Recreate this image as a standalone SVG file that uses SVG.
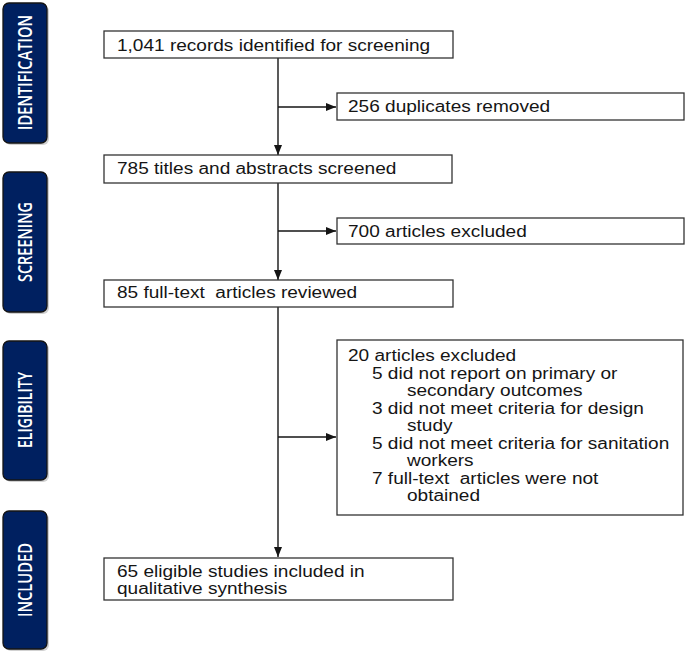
<svg xmlns="http://www.w3.org/2000/svg" width="688" height="652" viewBox="0 0 688 652">
<style>
.bg{fill:#ffffff}
.panel{fill:#002060;stroke:#141414;stroke-width:1.3}
.shadow{fill:#9a9a9a;opacity:0.45}
.plabel{font-family:"Open Sans","Liberation Sans",sans-serif;font-size:16px;font-weight:600;fill:#ffffff;text-anchor:middle}
.box{fill:#ffffff;stroke:#333333;stroke-width:1.3}
.t{font-family:"Liberation Sans",Arial,sans-serif;font-size:16px;fill:#151515}
.conn{fill:none;stroke:#151515;stroke-width:1.4}
</style>
<defs>
<marker id="ah" markerUnits="userSpaceOnUse" markerWidth="10" markerHeight="10" viewBox="0 0 10 10" refX="10" refY="5" orient="auto">
<path d="M0,1 L10,5 L0,9 Z" fill="#151515"/>
</marker>
</defs>
<rect class="bg" x="0" y="0" width="688" height="652"/>

<g id="phase-identification">
<rect class="shadow" x="5" y="5" width="44" height="140" rx="6"/>
<rect class="panel" x="3" y="3" width="44" height="140" rx="6"/>
<text class="plabel" textLength="115" lengthAdjust="spacingAndGlyphs" transform="translate(25,72.5) scale(1.19,1) rotate(-90)" dy="0.36em">IDENTIFICATION</text>
</g>
<g id="phase-screening">
<rect class="shadow" x="5" y="174" width="44" height="140" rx="6"/>
<rect class="panel" x="3" y="172" width="44" height="140" rx="6"/>
<text class="plabel" textLength="80" lengthAdjust="spacingAndGlyphs" transform="translate(25,242) scale(1.19,1) rotate(-90)" dy="0.36em">SCREENING</text>
</g>
<g id="phase-eligibility">
<rect class="shadow" x="5" y="343" width="44" height="139" rx="6"/>
<rect class="panel" x="3" y="341" width="44" height="139" rx="6"/>
<text class="plabel" textLength="76" lengthAdjust="spacingAndGlyphs" transform="translate(25,410) scale(1.19,1) rotate(-90)" dy="0.36em">ELIGIBILITY</text>
</g>
<g id="phase-included">
<rect class="shadow" x="5" y="513" width="44" height="138" rx="6"/>
<rect class="panel" x="3" y="511" width="44" height="138" rx="6"/>
<text class="plabel" textLength="74" lengthAdjust="spacingAndGlyphs" transform="translate(25,580) scale(1.19,1) rotate(-90)" dy="0.36em">INCLUDED</text>
</g>

<g id="connectors">
<path class="conn" d="M278,58 V155" marker-end="url(#ah)"/>
<path class="conn" d="M278,107 H336" marker-end="url(#ah)"/>
<path class="conn" d="M278,183 V280" marker-end="url(#ah)"/>
<path class="conn" d="M278,231 H336" marker-end="url(#ah)"/>
<path class="conn" d="M278,307 V557" marker-end="url(#ah)"/>
<path class="conn" d="M278,437 H336" marker-end="url(#ah)"/>
</g>

<g id="n-identified">
<rect class="box" x="104" y="31" width="349" height="27"/>
<text class="t" transform="translate(117,51) scale(1.19,1)">1,041 records identified for screening</text>
</g>
<g id="n-duplicates">
<rect class="box" x="337" y="93" width="347" height="27"/>
<text class="t" transform="translate(348,112) scale(1.19,1)">256 duplicates removed</text>
</g>
<g id="n-screened">
<rect class="box" x="104" y="155" width="348" height="28"/>
<text class="t" transform="translate(117,174) scale(1.19,1)">785 titles and abstracts screened</text>
</g>
<g id="n-excluded700">
<rect class="box" x="337" y="218" width="347" height="26"/>
<text class="t" transform="translate(348,237) scale(1.19,1)">700 articles excluded</text>
</g>
<g id="n-fulltext">
<rect class="box" x="104" y="280" width="349" height="27"/>
<text class="t" transform="translate(117,298) scale(1.19,1)">85 full-text&#160; articles reviewed</text>
</g>
<g id="n-excluded20">
<rect class="box" x="337" y="340" width="346" height="175"/>
<text class="t" transform="translate(348,361) scale(1.19,1)">20 articles excluded</text>
<text class="t" transform="translate(372,378.5) scale(1.19,1)">5 did not report on primary or</text>
<text class="t" transform="translate(407,396) scale(1.19,1)">secondary outcomes</text>
<text class="t" transform="translate(372,413.5) scale(1.19,1)">3 did not meet criteria for design</text>
<text class="t" transform="translate(407,431) scale(1.19,1)">study</text>
<text class="t" transform="translate(372,448.5) scale(1.19,1)">5 did not meet criteria for sanitation</text>
<text class="t" transform="translate(407,466) scale(1.19,1)">workers</text>
<text class="t" transform="translate(372,483.5) scale(1.19,1)">7 full-text&#160; articles were not</text>
<text class="t" transform="translate(407,501) scale(1.19,1)">obtained</text>
</g>
<g id="n-included">
<rect class="box" x="104" y="558" width="349" height="42"/>
<text class="t" transform="translate(117,577) scale(1.19,1)">65 eligible studies included in</text>
<text class="t" transform="translate(117,594) scale(1.19,1)">qualitative synthesis</text>
</g>
</svg>
